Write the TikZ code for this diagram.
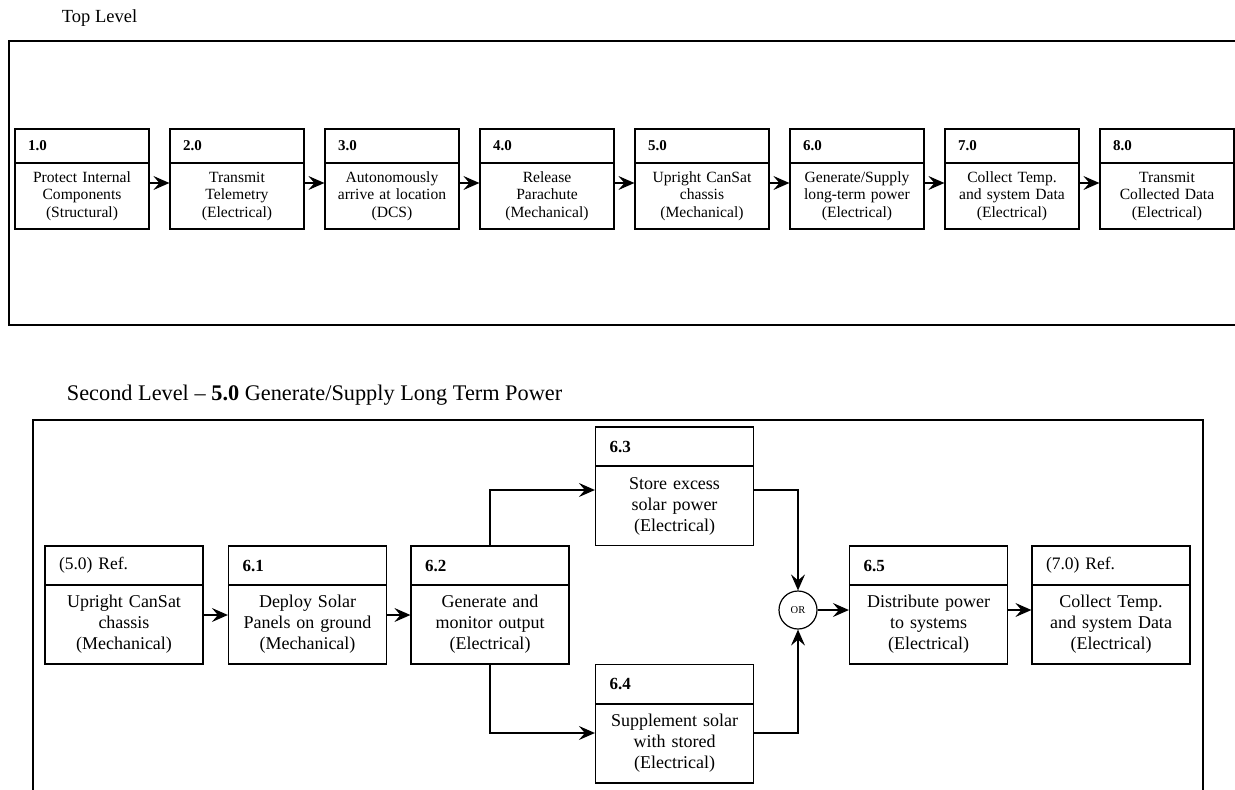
\documentclass[tikz,border=0pt]{standalone}
\usepackage{fontspec}
\setmainfont{Liberation Serif}
\usetikzlibrary{arrows.meta}

\begin{document}
\begin{tikzpicture}[x=1pt, y=-1pt, >={Stealth[length=16pt, width=14pt, inset=6pt]}, line width=1.2pt,
    tophead/.style={draw, minimum width=134pt, minimum height=34pt, text width=108pt, inner xsep=13pt, inner ysep=0pt, align=left, font=\fontsize{15}{17}\selectfont\bfseries},
    topbody/.style={draw, minimum width=134pt, minimum height=66pt, text width=130pt, inner xsep=2pt, inner ysep=0pt, align=center, font=\fontsize{15.6}{17.5}\selectfont},
    subhead/.style={draw, minimum width=158pt, minimum height=39pt, text width=130pt, inner xsep=14pt, inner ysep=0pt, align=left, font=\fontsize{17}{20}\selectfont\bfseries},
    subbody/.style={draw, minimum width=158pt, minimum height=79pt, text width=154pt, inner xsep=2pt, inner ysep=0pt, align=center, font=\fontsize{18}{21}\selectfont},
    orgate/.style={draw, circle, minimum size=38pt, inner sep=0pt, font=\fontsize{10.5}{11}\selectfont}]
    \useasboundingbox (0, 0) rectangle (1235, 790);
    % top level
    \node[anchor=west, font=\fontsize{18.5}{20}\selectfont] (toptitle) at (58, 18.5) {Top Level};
    \draw (1235, 41) -- (9, 41) -- (9, 325) -- (1235, 325);
    \node[tophead] (t1h) at (82, 146) {1.0};
    \node[topbody] (t1b) at (82, 196) {Protect Internal\\Components\\(Structural)};
    \node[tophead] (t2h) at (237, 146) {2.0};
    \node[topbody] (t2b) at (237, 196) {Transmit\\Telemetry\\(Electrical)};
    \node[tophead] (t3h) at (392, 146) {3.0};
    \node[topbody] (t3b) at (392, 196) {Autonomously\\arrive at location\\(DCS)};
    \node[tophead] (t4h) at (547, 146) {4.0};
    \node[topbody] (t4b) at (547, 196) {Release\\Parachute\\(Mechanical)};
    \node[tophead] (t5h) at (702, 146) {5.0};
    \node[topbody] (t5b) at (702, 196) {Upright CanSat\\chassis\\(Mechanical)};
    \node[tophead] (t6h) at (857, 146) {6.0};
    \node[topbody] (t6b) at (857, 196) {Generate/Supply\\long-term power\\(Electrical)};
    \node[tophead] (t7h) at (1012, 146) {7.0};
    \node[topbody] (t7b) at (1012, 196) {Collect Temp.\\and system Data\\(Electrical)};
    \node[tophead] (t8h) at (1167, 146) {8.0};
    \node[topbody] (t8b) at (1167, 196) {Transmit\\Collected Data\\(Electrical)};
    \draw[->] ([yshift=13pt]t1b.east) -- ([yshift=13pt]t2b.west);
    \draw[->] ([yshift=13pt]t2b.east) -- ([yshift=13pt]t3b.west);
    \draw[->] ([yshift=13pt]t3b.east) -- ([yshift=13pt]t4b.west);
    \draw[->] ([yshift=13pt]t4b.east) -- ([yshift=13pt]t5b.west);
    \draw[->] ([yshift=13pt]t5b.east) -- ([yshift=13pt]t6b.west);
    \draw[->] ([yshift=13pt]t6b.east) -- ([yshift=13pt]t7b.west);
    \draw[->] ([yshift=13pt]t7b.east) -- ([yshift=13pt]t8b.west);
    % second level
    \node[anchor=west, font=\fontsize{22.3}{24}\selectfont] (subtitle) at (63, 395) {Second Level -- \textbf{5.0} Generate/Supply Long Term Power};
    \draw (33, 790) -- (33, 420) -- (1203, 420) -- (1203, 790);
    \node[subhead, font=\fontsize{17.5}{20}\selectfont] (r5h) at (124, 565.5) {(5.0) Ref.};
    \node[subbody] (r5b) at (124, 624.5) {Upright CanSat\\chassis\\(Mechanical)};
    \node[subhead] (s1h) at (307.5, 565.5) {6.1};
    \node[subbody] (s1b) at (307.5, 624.5) {Deploy Solar\\Panels on ground\\(Mechanical)};
    \node[subhead] (s2h) at (490, 565.5) {6.2};
    \node[subbody] (s2b) at (490, 624.5) {Generate and\\monitor output\\(Electrical)};
    \node[subhead] (s3h) at (674.5, 446.5) {6.3};
    \node[subbody] (s3b) at (674.5, 506) {Store excess\\solar power\\(Electrical)};
    \node[subhead] (s4h) at (674.5, 684) {6.4};
    \node[subbody] (s4b) at (674.5, 743.5) {Supplement solar\\with stored\\(Electrical)};
    \node[orgate] (or) at (798, 610) {OR};
    \node[subhead] (s5h) at (928.5, 565.5) {6.5};
    \node[subbody] (s5b) at (928.5, 624.5) {Distribute power\\to systems\\(Electrical)};
    \node[subhead, font=\fontsize{17.5}{20}\selectfont] (r7h) at (1111, 565.5) {(7.0) Ref.};
    \node[subbody] (r7b) at (1111, 624.5) {Collect Temp.\\and system Data\\(Electrical)};
    \draw[->] ([yshift=9.5pt]r5b.east) -- ([yshift=9.5pt]s1b.west);
    \draw[->] ([yshift=9.5pt]s1b.east) -- ([yshift=9.5pt]s2b.west);
    \draw[->] (s2h.north) |- ([yshift=16pt]s3b.west);
    \draw[->] (s2b.south) |- ([yshift=10.5pt]s4b.west);
    \draw[->] ([yshift=16pt]s3b.east) -| (or.north);
    \draw[->] ([yshift=10.5pt]s4b.east) -| (or.south);
    \draw[->] (or.east) -- (or.east -| s5b.west);
    \draw[->] ([yshift=14.5pt]s5b.east) -- ([yshift=14.5pt]r7b.west);
\end{tikzpicture}
\end{document}
